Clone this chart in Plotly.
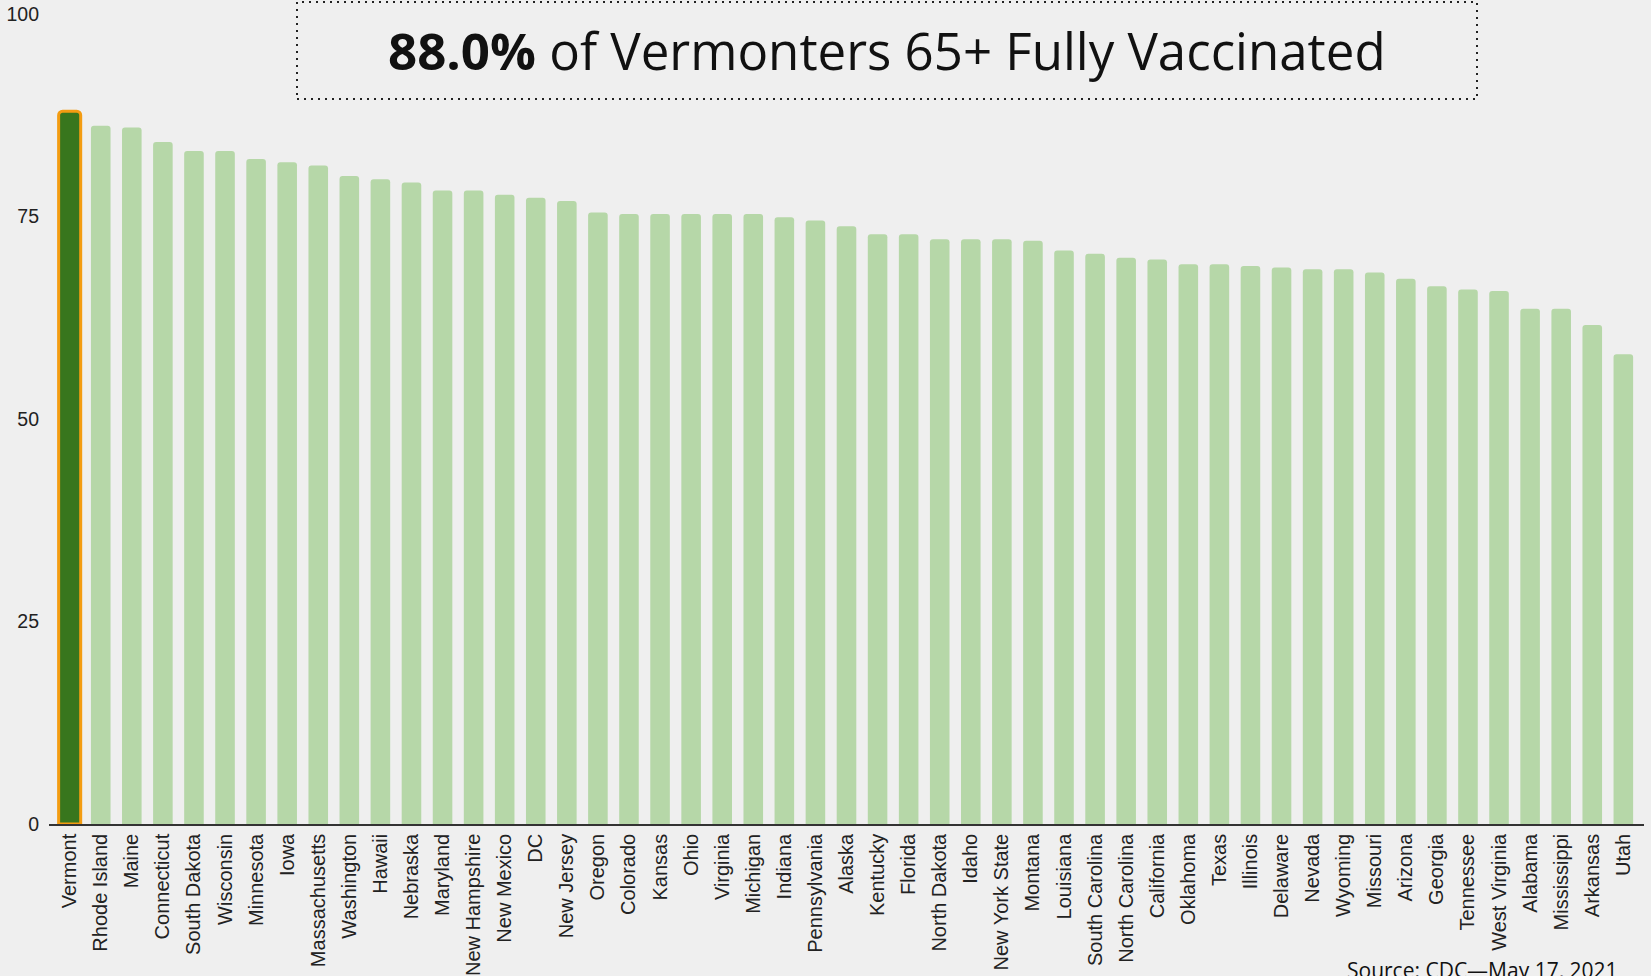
import plotly.graph_objects as go

states = ["Vermont", "Rhode Island", "Maine", "Connecticut", "South Dakota", "Wisconsin",
          "Minnesota", "Iowa", "Massachusetts", "Washington", "Hawaii", "Nebraska",
          "Maryland", "New Hampshire", "New Mexico", "DC", "New Jersey", "Oregon",
          "Colorado", "Kansas", "Ohio", "Virginia", "Michigan", "Indiana", "Pennsylvania",
          "Alaska", "Kentucky", "Florida", "North Dakota", "Idaho", "New York State",
          "Montana", "Louisiana", "South Carolina", "North Carolina", "California",
          "Oklahoma", "Texas", "Illinois", "Delaware", "Nevada", "Wyoming", "Missouri",
          "Arizona", "Georgia", "Tennessee", "West Virginia", "Alabama", "Mississippi",
          "Arkansas", "Utah"]
values = [88.0, 86.2, 86.0, 84.2, 83.1, 83.1,
          82.1, 81.7, 81.3, 80.0, 79.6, 79.2,
          78.2, 78.2, 77.7, 77.3, 76.9, 75.5,
          75.3, 75.3, 75.3, 75.3, 75.3, 74.9, 74.5,
          73.8, 72.8, 72.8, 72.2, 72.2, 72.2,
          72.0, 70.8, 70.4, 69.9, 69.7,
          69.1, 69.1, 68.9, 68.7, 68.5, 68.5, 68.1,
          67.3, 66.4, 66.0, 65.8, 63.6, 63.6,
          61.6, 58.0]
highlight = "Vermont"
y_ticks = [0, 25, 50, 75, 100]
title_pct = "88.0%"
title_rest = " of Vermonters 65+ Fully Vaccinated"
source_text = "Source: CDC\u2014May 17, 2021"

W, H = 1651, 976
L, R, T, B = 49, 7, 14, 152

hx = [s for s in states if s == highlight]
hy = [v for s, v in zip(states, values) if s == highlight]
ox = [s for s in states if s != highlight]
oy = [v for s, v in zip(states, values) if s != highlight]

fig = go.Figure()
fig.add_trace(go.Bar(x=ox, y=oy, width=0.63,
                     marker=dict(color="#b6d7a8", line=dict(width=0), cornerradius=3),
                     hoverinfo="x+y"))
fig.add_trace(go.Bar(x=hx, y=hy, width=0.71,
                     marker=dict(color="#38761d", line=dict(color="#f39c12", width=3),
                                 cornerradius=4),
                     hoverinfo="x+y"))

pw = W - L - R
ph = H - T - B
def px_x(p):
    return (p - L) / pw
def px_y(p):
    return (H - B - p) / ph

fig.add_shape(type="rect", xref="paper", yref="paper",
              x0=px_x(297), x1=px_x(1477), y0=px_y(99), y1=px_y(2),
              line=dict(color="#222222", width=2, dash="2px,5px"),
              fillcolor="rgba(0,0,0,0)", layer="above")
fig.add_annotation(xref="paper", yref="paper", x=px_x(887), y=px_y(50),
                   xanchor="center", yanchor="middle", showarrow=False,
                   text="<b>" + title_pct + "</b>" + title_rest,
                   font=dict(family="Open Sans", size=51, color="#111111"))
fig.add_annotation(xref="paper", yref="paper", x=px_x(1345), y=px_y(954),
                   xanchor="left", yanchor="top", showarrow=False,
                   text=source_text,
                   font=dict(family="Open Sans", size=21, color="#111111"))

fig.update_layout(
    width=W, height=H,
    paper_bgcolor="#efefef", plot_bgcolor="#efefef",
    margin=dict(l=L, r=R, t=T, b=B, autoexpand=False),
    barmode="overlay", showlegend=False,
    xaxis=dict(categoryorder="array", categoryarray=states,
               range=[-0.665, len(states) - 1 + 0.665],
               tickangle=-90, tickfont=dict(family="Liberation Sans", size=20, color="#222222"),
               showline=True, linecolor="#333333", linewidth=1.5,
               showgrid=False, ticks="", ticklen=0, ticklabelstandoff=0, fixedrange=True),
    yaxis=dict(range=[0, 100], tickvals=y_ticks, showgrid=False, zeroline=False,
               showline=False, ticks="",
               tickfont=dict(family="Liberation Sans", size=19.5, color="#222222"),
               ticklabelstandoff=9, fixedrange=True),
)

fig.write_html("out.html", config={"displayModeBar": False},
               post_script="document.body.style.margin='0';document.body.style.overflow='hidden';")
